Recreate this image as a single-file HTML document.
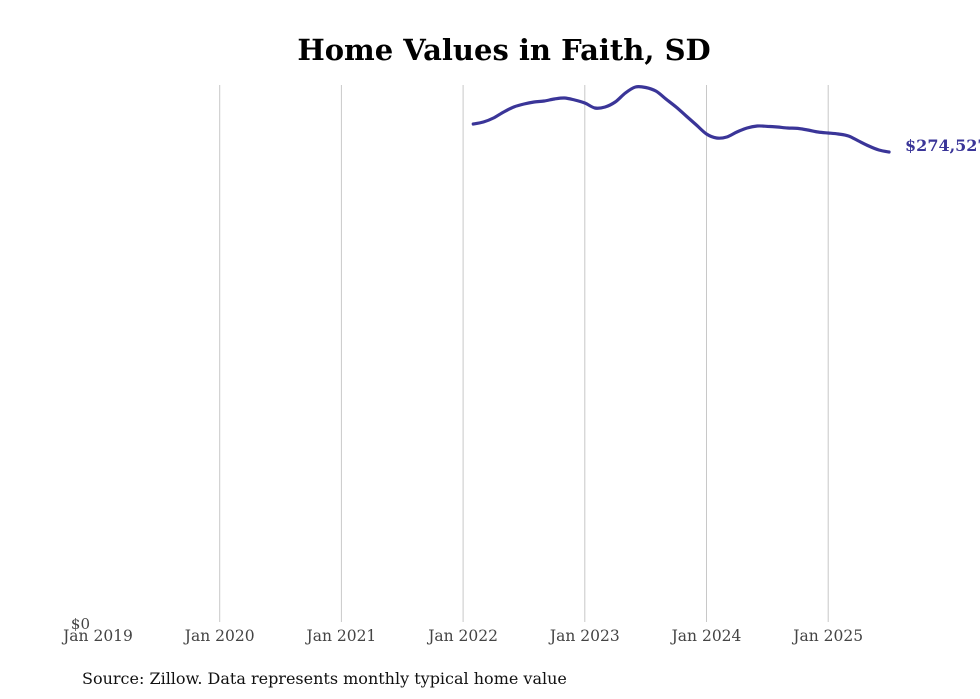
<!DOCTYPE html>
<html><head><meta charset="utf-8"><style>
body{margin:0;background:#fff;width:980px;height:699px;overflow:hidden}
svg{display:block;font-family:"DejaVu Serif","Liberation Serif",serif}
</style></head><body>
<svg width="980" height="699">
<text x="504" y="60" text-anchor="middle" font-size="29" font-weight="bold">Home Values in Faith, SD</text>
<g id="grid"></g>
<g id="xt"></g>
<text x="90" y="629" text-anchor="end" font-size="15" fill="#444">$0</text>
<path id="line" fill="none" stroke="#3a3598" stroke-width="3.2" stroke-linejoin="round" stroke-linecap="round"/>
<text id="endlabel" font-size="16" font-weight="bold" fill="#3a3598"></text>
<text x="82" y="684" font-size="16" fill="#111">Source: Zillow. Data represents monthly typical home value</text>
</svg>
<script>
const yearTicks=["Jan 2019","Jan 2020","Jan 2021","Jan 2022","Jan 2023","Jan 2024","Jan 2025"];
const startMonthIndex=37; // Feb 2022, months since Jan 2019
const values=[290880,292050,294390,297890,300810,302560,303730,304320,305480,306070,304900,303150,300230,300810,303730,308990,312490,312200,310150,305480,300810,295550,290300,285040,282700,283290,286210,288550,289710,289500,289130,288550,288300,287380,286210,285620,285040,283870,280950,278030,275700,274527];
const x=m=>98+m*(121.7/12);
const y=v=>622-v*(537/313660);
const ns="http://www.w3.org/2000/svg";
const g=document.getElementById('grid'),xt=document.getElementById('xt');
yearTicks.forEach((t,i)=>{
 const X=x(i*12);
 if(i>0){const l=document.createElementNS(ns,'line');
 l.setAttribute('x1',X);l.setAttribute('x2',X);l.setAttribute('y1',85);l.setAttribute('y2',622);
 l.setAttribute('stroke','#c8c8c8');l.setAttribute('stroke-width','1');
 
 
 g.appendChild(l);}
 const tx=document.createElementNS(ns,'text');
 tx.setAttribute('x',X);tx.setAttribute('y',641);tx.setAttribute('text-anchor','middle');
 tx.setAttribute('font-size','15.5');tx.setAttribute('fill','#444');tx.textContent=t;
 
 
 xt.appendChild(tx);
});
const pts=values.map((v,i)=>[x(startMonthIndex+i),y(v)]);
let d='M'+pts[0][0].toFixed(1)+','+pts[0][1].toFixed(1);
for(let i=0;i<pts.length-1;i++){
 const p0=pts[Math.max(i-1,0)],p1=pts[i],p2=pts[i+1],p3=pts[Math.min(i+2,pts.length-1)];
 const c1=[p1[0]+(p2[0]-p0[0])/6,p1[1]+(p2[1]-p0[1])/6];
 const c2=[p2[0]-(p3[0]-p1[0])/6,p2[1]-(p3[1]-p1[1])/6];
 d+='C'+c1.map(n=>n.toFixed(1)).join(',')+' '+c2.map(n=>n.toFixed(1)).join(',')+' '+p2.map(n=>n.toFixed(1)).join(',');
}
document.getElementById('line').setAttribute('d',d);
const last=values[values.length-1],el=document.getElementById('endlabel');
el.setAttribute('x',x(startMonthIndex+values.length-1)+16);
el.setAttribute('y',y(last)-1);
el.textContent='$'+last.toLocaleString('en-US');
</script>
</body></html>
